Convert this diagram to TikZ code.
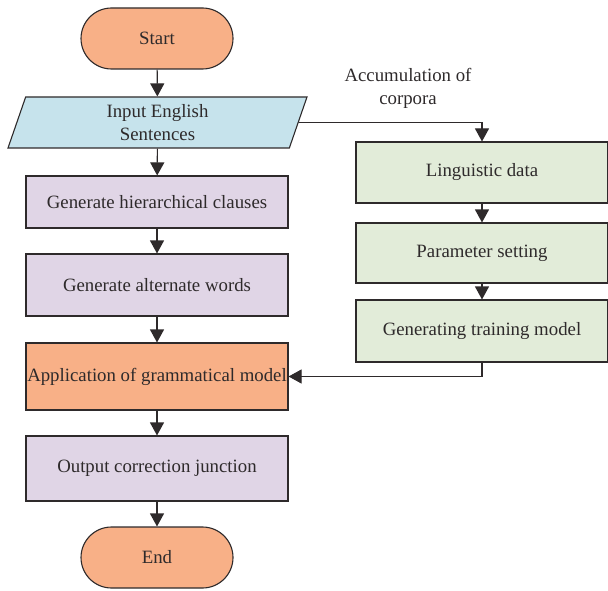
\documentclass[tikz,border=0pt]{standalone}
\usepackage{fontspec}
\setmainfont{Liberation Serif}
\usepackage{tikz}
\usetikzlibrary{arrows.meta, shapes.misc, shapes.geometric}

\definecolor{termorange}{HTML}{F8B087}
\definecolor{inputblue}{HTML}{C6E3EC}
\definecolor{steplilac}{HTML}{E0D5E6}
\definecolor{datagreen}{HTML}{E2ECD9}
\definecolor{inkgray}{HTML}{2E2A2B}

\tikzset{
    terminal/.style={draw=inkgray, line width=1.1pt, fill=termorange, rounded rectangle,
        minimum width=152pt, minimum height=61pt, inner sep=0pt},
    process/.style={draw=inkgray, line width=1.1pt, fill=steplilac, rectangle,
        minimum width=262pt, inner sep=0pt},
    corpusbox/.style={draw=inkgray, line width=1.1pt, fill=datagreen, rectangle,
        minimum width=252pt, inner sep=0pt},
    flow/.style={draw=inkgray, line width=1.1pt, -{Triangle[length=13pt, width=14pt]}}
}

\begin{document}
\begin{tikzpicture}[x=1pt, y=-1pt, font=\fontsize{18.8}{23}\selectfont, text=inkgray]
    \useasboundingbox (0,0) rectangle (608,591);

    % Main column
    \node[terminal] (start) at (157,38.5) {Start};
    \node[draw=inkgray, line width=1.1pt, fill=inputblue, trapezium, trapezium stretches body,
        trapezium left angle=64, trapezium right angle=116, inner sep=0pt,
        minimum width=299pt, minimum height=51pt, align=center] (input) at (157.5,122.5)
        {Input English\\Sentences};
    \node[process, minimum height=52pt] (clauses) at (157,202) {Generate hierarchical clauses};
    \node[process, minimum height=62pt] (alternate) at (157,285) {Generate alternate words};
    \node[process, fill=termorange, minimum height=67pt] (grammar) at (157,376.5) {Application of grammatical model};
    \node[process, minimum height=65pt] (output) at (157,468.5) {Output correction junction};
    \node[terminal] (finish) at (157,557.5) {End};

    % Corpus branch
    \node[align=center] (corpora) at (408,88) {Accumulation of\\corpora};
    \node[corpusbox, minimum height=61pt] (lingdata) at (482,172.5) {Linguistic data};
    \node[corpusbox, minimum height=60pt] (params) at (482,253) {Parameter setting};
    \node[corpusbox, minimum height=62pt] (training) at (482,331) {Generating training model};

    % Connectors
    \draw[flow] (start) -- (input);
    \draw[flow] (input) -- (clauses);
    \draw[flow] (clauses) -- (alternate);
    \draw[flow] (alternate) -- (grammar);
    \draw[flow] (grammar) -- (output);
    \draw[flow] (output) -- (finish);
    \draw[flow] (input.east) -| (lingdata.north);
    \draw[flow] (lingdata) -- (params);
    \draw[flow] (params) -- (training);
    \draw[flow] (training.south) |- (grammar.east);
\end{tikzpicture}
\end{document}
